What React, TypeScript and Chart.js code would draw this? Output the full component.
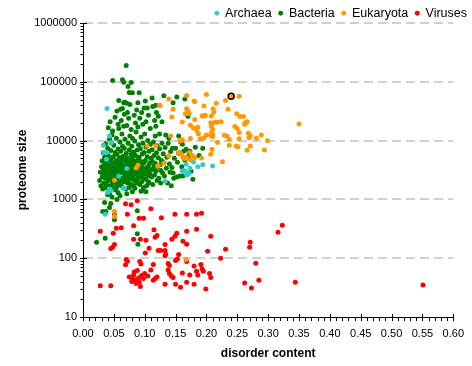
import React, { useEffect, useRef } from "react";
import { Chart, registerables } from "chart.js";

Chart.register(...registerables);
Chart.defaults.font.family = "'Liberation Sans', Arial, Helvetica, sans-serif";

type P = [number, number];

const seriesNames = ["Archaea", "Bacteria", "Eukaryota", "Viruses"];
const seriesColors = ["#33CCCC", "#008000", "#FF9900", "#FF0000"];

const archaea: P[] = [
  [0.039, 35000], [0.043, 12000], [0.046, 9300], [0.033, 8300], [0.034, 6300], [0.038, 6300],
  [0.038, 4800], [0.065, 1550], [0.043, 1500], [0.045, 1400], [0.133, 2040], [0.167, 3970],
  [0.173, 3400], [0.165, 3060], [0.172, 2760], [0.168, 2600], [0.179, 4310], [0.186, 3580],
  [0.194, 3870], [0.210, 3700], [0.161, 3050], [0.169, 2790], [0.036, 557], [0.044, 1440],
  [0.040, 1310], [0.067, 1540], [0.071, 3350], [0.058, 2500],
];

const bacteria: P[] = [
  [0.027, 2100], [0.028, 2900], [0.029, 1700], [0.030, 3600], [0.031, 2400], [0.031, 4500], [0.032, 1500],
  [0.033, 3100], [0.033, 6200], [0.034, 1900], [0.034, 2700], [0.035, 5200], [0.035, 3900], [0.036, 1600],
  [0.036, 2300], [0.037, 8800], [0.037, 3300], [0.038, 4300], [0.038, 1800], [0.039, 2600],
  [0.040, 3000], [0.040, 7400], [0.041, 2100], [0.041, 5600], [0.042, 1400], [0.042, 3700], [0.043, 2500],
  [0.043, 10500], [0.044, 4600], [0.044, 1700], [0.045, 3200], [0.045, 6800], [0.046, 2200], [0.046, 2800],
  [0.047, 4100], [0.047, 12500], [0.048, 1900], [0.048, 3500], [0.049, 5300], [0.049, 2600], [0.050, 8300],
  [0.050, 3000], [0.050, 1600], [0.041, 16500], [0.044, 21000], [0.046, 9200], [0.048, 14500], [0.043, 1250],
  [0.049, 2300], [0.045, 4800],
  [0.051, 3800], [0.051, 2000], [0.052, 6300], [0.052, 2700], [0.053, 4500], [0.053, 1450], [0.054, 3300],
  [0.054, 11000], [0.055, 2300], [0.055, 5800], [0.056, 1800], [0.056, 3900], [0.057, 7200], [0.057, 2600],
  [0.058, 4300], [0.058, 16000], [0.059, 3100], [0.059, 2000], [0.060, 5100], [0.060, 9500], [0.052, 25000],
  [0.055, 32000], [0.057, 19000], [0.053, 2900], [0.056, 4700], [0.058, 2400], [0.054, 1600], [0.060, 3500],
  [0.061, 2800], [0.061, 6600], [0.062, 1700], [0.062, 4200], [0.063, 3300], [0.063, 13000], [0.064, 2300],
  [0.064, 8000], [0.065, 3700], [0.065, 5400], [0.066, 2000], [0.066, 4900], [0.067, 3000], [0.067, 28000],
  [0.068, 2500], [0.068, 10500], [0.069, 4400], [0.069, 1500], [0.070, 3400], [0.070, 6100], [0.062, 22000],
  [0.064, 35000], [0.066, 17500], [0.068, 2900], [0.063, 4600], [0.069, 2200], [0.061, 3900], [0.067, 7400],
  [0.071, 2700], [0.071, 5100], [0.072, 1900], [0.072, 3800], [0.073, 3100], [0.073, 9000], [0.074, 2300],
  [0.074, 4600], [0.075, 6900], [0.075, 1600], [0.076, 3500], [0.076, 12000], [0.077, 2600], [0.077, 4200],
  [0.078, 5800], [0.078, 1800], [0.079, 3200], [0.079, 8000], [0.080, 2200], [0.080, 4800], [0.072, 30000],
  [0.074, 24000], [0.076, 41000], [0.078, 15500], [0.073, 2000], [0.075, 3000], [0.077, 2900], [0.079, 5300],
  [0.071, 18000], [0.080, 11000],
  [0.081, 3700], [0.081, 2500], [0.082, 6400], [0.082, 1700], [0.083, 4300], [0.083, 3000], [0.084, 9800],
  [0.084, 2100], [0.085, 3400], [0.085, 5600], [0.086, 2700], [0.086, 14000], [0.087, 4000], [0.087, 1900],
  [0.088, 6900], [0.088, 3200], [0.089, 2400], [0.089, 4700], [0.090, 8500], [0.090, 3600], [0.083, 27000],
  [0.085, 20000], [0.087, 33000], [0.089, 17000], [0.082, 2900], [0.086, 4500], [0.088, 2200], [0.084, 1550],
  [0.091, 2800], [0.091, 5200], [0.092, 3900], [0.092, 1800], [0.093, 7300], [0.093, 2500], [0.094, 4400],
  [0.094, 11500], [0.095, 3100], [0.095, 2000], [0.096, 5900], [0.096, 3500], [0.097, 2300], [0.097, 9000],
  [0.098, 4100], [0.098, 1600], [0.099, 6300], [0.099, 2700], [0.100, 3300], [0.100, 13000], [0.092, 24000],
  [0.095, 30000], [0.097, 19000], [0.099, 36000], [0.094, 2900], [0.096, 1400],
  [0.101, 4600], [0.101, 2200], [0.102, 7800], [0.103, 3000], [0.103, 1700], [0.104, 5300], [0.105, 2500],
  [0.105, 10000], [0.106, 3700], [0.107, 6600], [0.107, 1900], [0.108, 4100], [0.108, 2700], [0.109, 8700],
  [0.110, 3200], [0.110, 5000], [0.102, 21000], [0.106, 27000], [0.109, 16000], [0.104, 3500], [0.106, 2000],
  [0.111, 2400], [0.112, 4500], [0.112, 7000], [0.113, 1800], [0.114, 3300], [0.114, 9500], [0.115, 5600],
  [0.116, 2600], [0.117, 4100], [0.117, 12000], [0.118, 3000], [0.119, 6200], [0.120, 2100], [0.120, 8200],
  [0.113, 38000], [0.116, 22000], [0.119, 30000], [0.118, 17500], [0.115, 3700],
  [0.121, 3600], [0.122, 5100], [0.123, 2300], [0.124, 7300], [0.125, 3900], [0.126, 1900], [0.127, 4600],
  [0.128, 9000], [0.129, 2800], [0.130, 6000], [0.124, 13000], [0.128, 21000], [0.122, 26000], [0.126, 3100],
  [0.131, 4200], [0.132, 2500], [0.133, 7600], [0.135, 3400], [0.136, 5200], [0.137, 1900], [0.138, 9000],
  [0.140, 4000], [0.141, 2900], [0.142, 6500], [0.144, 3500], [0.145, 7400], [0.147, 2300], [0.148, 5000],
  [0.150, 7400], [0.134, 12500], [0.139, 11000], [0.146, 2800], [0.143, 1700],
  [0.152, 2400], [0.153, 4300], [0.155, 6100], [0.157, 2500], [0.158, 9500], [0.160, 3600], [0.162, 2500],
  [0.163, 6600], [0.165, 4700], [0.167, 7100], [0.170, 5300], [0.172, 6000], [0.173, 6600], [0.175, 3000],
  [0.178, 2200], [0.182, 7700], [0.188, 5600], [0.194, 7400], [0.170, 26000], [0.155, 12000], [0.161, 8700],
  [0.070, 190000], [0.048, 105000], [0.064, 108000], [0.066, 98000], [0.078, 97000], [0.073, 83000],
  [0.075, 66000], [0.080, 65000], [0.091, 65000], [0.066, 44000], [0.068, 45000], [0.071, 43000],
  [0.089, 44000], [0.101, 47000], [0.112, 53000], [0.131, 58000], [0.146, 44000], [0.165, 51000],
  [0.152, 55000], [0.118, 40000], [0.104, 36000], [0.058, 48000], [0.061, 34000],
  [0.035, 890], [0.032, 620], [0.037, 620], [0.043, 730], [0.051, 550], [0.051, 450], [0.088, 640],
  [0.088, 260], [0.089, 173], [0.022, 187], [0.036, 218], [0.102, 1350], [0.094, 1380], [0.040, 1200],
  [0.047, 1100], [0.057, 1300], [0.071, 1250], [0.080, 1350], [0.060, 1150], [0.045, 850], [0.055, 1000],
];

const eukaryota: P[] = [
  [0.253, 56600], [0.200, 61000], [0.168, 58500], [0.139, 51000], [0.125, 39700], [0.146, 34000],
  [0.144, 25100], [0.181, 46400], [0.196, 38700], [0.216, 43000], [0.231, 48000], [0.235, 34000],
  [0.211, 34800], [0.212, 30600], [0.208, 26200], [0.168, 34800], [0.170, 31800], [0.172, 29000],
  [0.166, 28700], [0.181, 22900], [0.161, 20700], [0.195, 26000], [0.198, 27000], [0.193, 26500],
  [0.207, 20200], [0.214, 20500], [0.218, 20500], [0.224, 21000], [0.208, 17500], [0.210, 15500],
  [0.208, 13500], [0.210, 12800], [0.207, 12300], [0.210, 11600], [0.174, 18200], [0.179, 16400],
  [0.186, 16900], [0.184, 15000], [0.187, 13100], [0.190, 10800], [0.196, 11200], [0.200, 12400],
  [0.218, 9250], [0.233, 12000], [0.229, 12500], [0.249, 28700], [0.254, 25800], [0.260, 25800],
  [0.246, 17300], [0.250, 16000], [0.253, 13700], [0.263, 20200], [0.266, 21000], [0.262, 19000],
  [0.268, 13300], [0.271, 12000], [0.269, 11200], [0.253, 10800], [0.237, 10500], [0.237, 8300],
  [0.248, 8100], [0.251, 7800], [0.266, 6850], [0.271, 8100], [0.281, 11000], [0.289, 12500],
  [0.299, 9900], [0.294, 6900], [0.350, 19100], [0.209, 7130], [0.207, 5860], [0.226, 4380],
  [0.192, 5080], [0.177, 5600], [0.173, 6270], [0.168, 5150], [0.159, 5860], [0.157, 6270],
  [0.162, 5150], [0.165, 4960], [0.174, 4700], [0.181, 5150], [0.157, 9800], [0.159, 10000],
  [0.161, 10300], [0.174, 10900], [0.142, 12000], [0.118, 8100], [0.122, 3720], [0.104, 8100],
  [0.139, 5480], [0.089, 3800], [0.086, 3430], [0.051, 2120], [0.121, 3700], [0.131, 4120],
  [0.155, 6200], [0.166, 5150], [0.051, 627], [0.051, 510], [0.167, 95], [0.180, 47000],
  [0.124, 40000],
];

const eukaryotaHighlight: P[] = [[0.240, 57000]];

const viruses: P[] = [
  [0.069, 845], [0.078, 813], [0.088, 950], [0.110, 695], [0.072, 557], [0.091, 476], [0.098, 476],
  [0.082, 358], [0.127, 489], [0.149, 557], [0.168, 557], [0.184, 557], [0.192, 580],
  [0.028, 287], [0.049, 265], [0.054, 322], [0.062, 330], [0.045, 146], [0.048, 153], [0.051, 171],
  [0.082, 210], [0.093, 210], [0.102, 202], [0.115, 306], [0.117, 227], [0.120, 244], [0.133, 171],
  [0.144, 210], [0.149, 236], [0.152, 265], [0.168, 287], [0.168, 173], [0.184, 310], [0.162, 194],
  [0.207, 236],
  [0.107, 148], [0.101, 123], [0.122, 135], [0.126, 135], [0.133, 135], [0.134, 117], [0.133, 110],
  [0.155, 116], [0.202, 131], [0.231, 142], [0.223, 100],
  [0.150, 91], [0.153, 97], [0.070, 95], [0.072, 89], [0.069, 77], [0.138, 81], [0.140, 75],
  [0.168, 88], [0.180, 74], [0.191, 78], [0.193, 66], [0.195, 60], [0.092, 88], [0.094, 80],
  [0.114, 78], [0.110, 63], [0.088, 62], [0.083, 58], [0.082, 52],
  [0.075, 48], [0.081, 44], [0.085, 42], [0.079, 40], [0.090, 46], [0.095, 51], [0.098, 45],
  [0.086, 37], [0.091, 39], [0.100, 55], [0.105, 50], [0.117, 45], [0.120, 48], [0.138, 63],
  [0.140, 55], [0.143, 50], [0.146, 47], [0.184, 60], [0.186, 52], [0.205, 55], [0.207, 47],
  [0.161, 56], [0.173, 52], [0.114, 42], [0.133, 36], [0.150, 36], [0.158, 32], [0.168, 39],
  [0.180, 36], [0.199, 30], [0.028, 34], [0.045, 34], [0.093, 33],
  [0.262, 38], [0.271, 187], [0.270, 153], [0.280, 82], [0.285, 42], [0.273, 31], [0.316, 276],
  [0.323, 362], [0.344, 39], [0.551, 35],
];

const xTicks = [0, 0.05, 0.1, 0.15, 0.2, 0.25, 0.3, 0.35, 0.4, 0.45, 0.5, 0.55, 0.6];
const yTicks = [10, 100, 1000, 10000, 100000, 1000000];
const xMinorStep = 0.01;
const xTitle = "disorder content";
const yTitle = "proteome size";

const toPts = (arr: P[]) => arr.map(([x, y]) => ({ x, y }));

const axisTicksPlugin = {
  id: "axisTicks",
  afterDraw(chart: any) {
    const { ctx, chartArea, scales } = chart;
    const xs = scales.x;
    const ys = scales.y;
    ctx.save();
    ctx.strokeStyle = "#000";
    ctx.lineWidth = 1;
    ctx.beginPath();
    const ax = Math.round(chartArea.left) + 0.5;
    for (let i = 0; i < yTicks.length; i++) {
      const d = yTicks[i];
      const py = Math.round(ys.getPixelForValue(d)) + 0.5;
      ctx.moveTo(ax - 3.5, py);
      ctx.lineTo(ax + 3.5, py);
      if (i < yTicks.length - 1) {
        for (let m = 2; m <= 9; m++) {
          const p = Math.round(ys.getPixelForValue(d * m)) + 0.5;
          ctx.moveTo(ax - 3, p);
          ctx.lineTo(ax, p);
        }
      }
    }
    const ay = Math.round(chartArea.bottom) + 0.5;
    const n = Math.round((xs.max - xs.min) / xMinorStep);
    for (let i = 0; i <= n; i++) {
      const v = xs.min + i * xMinorStep;
      const px = Math.round(xs.getPixelForValue(v)) + 0.5;
      if (i % 5 === 0) {
        ctx.moveTo(px, ay - 3.5);
        ctx.lineTo(px, ay + 3.5);
      } else {
        ctx.moveTo(px, ay);
        ctx.lineTo(px, ay + 3.5);
      }
    }
    ctx.stroke();
    ctx.restore();
  },
};

export default function App() {
  const ref = useRef<HTMLCanvasElement | null>(null);

  useEffect(() => {
    if (!ref.current) return;
    const ds = (label: string, data: P[], color: string, order: number) => ({
      label,
      data: toPts(data),
      backgroundColor: color,
      borderColor: color,
      pointBackgroundColor: color,
      pointRadius: 2.5,
      pointBorderWidth: 0,
      borderWidth: 0,
      order,
      xAxisID: "x",
      yAxisID: "y",
    });
    const chart = new Chart(ref.current, {
      type: "scatter",
      data: {
        datasets: [
          ds(seriesNames[0], archaea, seriesColors[0], 2),
          ds(seriesNames[1], bacteria, seriesColors[1], 4),
          ds(seriesNames[2], eukaryota, seriesColors[2], 1),
          ds(seriesNames[3], viruses, seriesColors[3], 3),
          {
            label: seriesNames[2],
            data: toPts(eukaryotaHighlight),
            backgroundColor: seriesColors[2],
            pointBackgroundColor: seriesColors[2],
            pointBorderColor: "#000",
            borderColor: "#000",
            pointRadius: 3,
            pointBorderWidth: 1.5,
            order: 0,
            xAxisID: "x",
            yAxisID: "y",
          },
        ],
      },
      options: {
        responsive: false,
        devicePixelRatio: 1,
        animation: false,
        events: [],
        layout: { padding: 0 },
        plugins: {
          tooltip: { enabled: false },
          legend: {
            position: "top",
            align: "end",
            maxHeight: 23,
            labels: {
              usePointStyle: true,
              pointStyle: "circle",
              boxWidth: 4,
              boxHeight: 3.5,
              padding: 7,
              color: "#000",
              font: { size: 12.5 },
              filter: (item: any) => item.datasetIndex < 4,
              sort: (a: any, b: any) => a.datasetIndex - b.datasetIndex,
            },
          },
        },
        scales: {
          x: {
            type: "linear",
            position: "bottom",
            min: 0,
            max: 0.6,
            afterBuildTicks: (s: any) => {
              s.ticks = xTicks.map((v) => ({ value: v }));
            },
            afterFit: (s: any) => {
              s.height = 49;
            },
            ticks: {
              autoSkip: false,
              maxRotation: 0,
              padding: 10,
              color: "#000",
              font: { size: 11 },
              callback: (v: any) => Number(v).toFixed(2),
            },
            grid: { display: false, drawTicks: false },
            border: { display: true, color: "#000", width: 1 },
            title: {
              display: true,
              text: xTitle,
              color: "#000",
              font: { size: 12, weight: "bold" },
              padding: { top: 0, bottom: 5 },
            },
          },
          y: {
            type: "logarithmic",
            position: "left",
            min: 10,
            max: 1000000,
            afterBuildTicks: (s: any) => {
              s.ticks = yTicks.map((v) => ({ value: v }));
            },
            afterFit: (s: any) => {
              s.width = 83;
            },
            ticks: {
              autoSkip: false,
              padding: 6,
              color: "#000",
              font: { size: 11 },
              callback: (v: any) => String(v),
            },
            grid: {
              display: true,
              drawTicks: false,
              drawOnChartArea: true,
              lineWidth: 2,
              color: (c: any) => (c.tick && c.tick.value === yTicks[0] ? "rgba(0,0,0,0)" : "#d0d0d0"),
            },
            border: { display: true, color: "#000", width: 1, dash: [9, 5] },
            title: {
              display: true,
              text: yTitle,
              color: "#000",
              font: { size: 12, weight: "bold" },
              padding: { top: 15, bottom: 0 },
            },
          },
          yr: {
            type: "linear",
            position: "right",
            display: true,
            grid: { display: false, drawTicks: false },
            border: { display: false },
            ticks: { display: false },
            afterFit: (s: any) => {
              s.width = 17;
            },
          },
        },
      },
      plugins: [axisTicksPlugin],
    } as any);
    return () => chart.destroy();
  }, []);

  return (
    <div style={{ position: "fixed", left: 0, top: 0, width: 472, height: 366, overflow: "hidden", background: "#fff" }}>
      <canvas ref={ref} width={474} height={366} style={{ display: "block" }} />
    </div>
  );
}
